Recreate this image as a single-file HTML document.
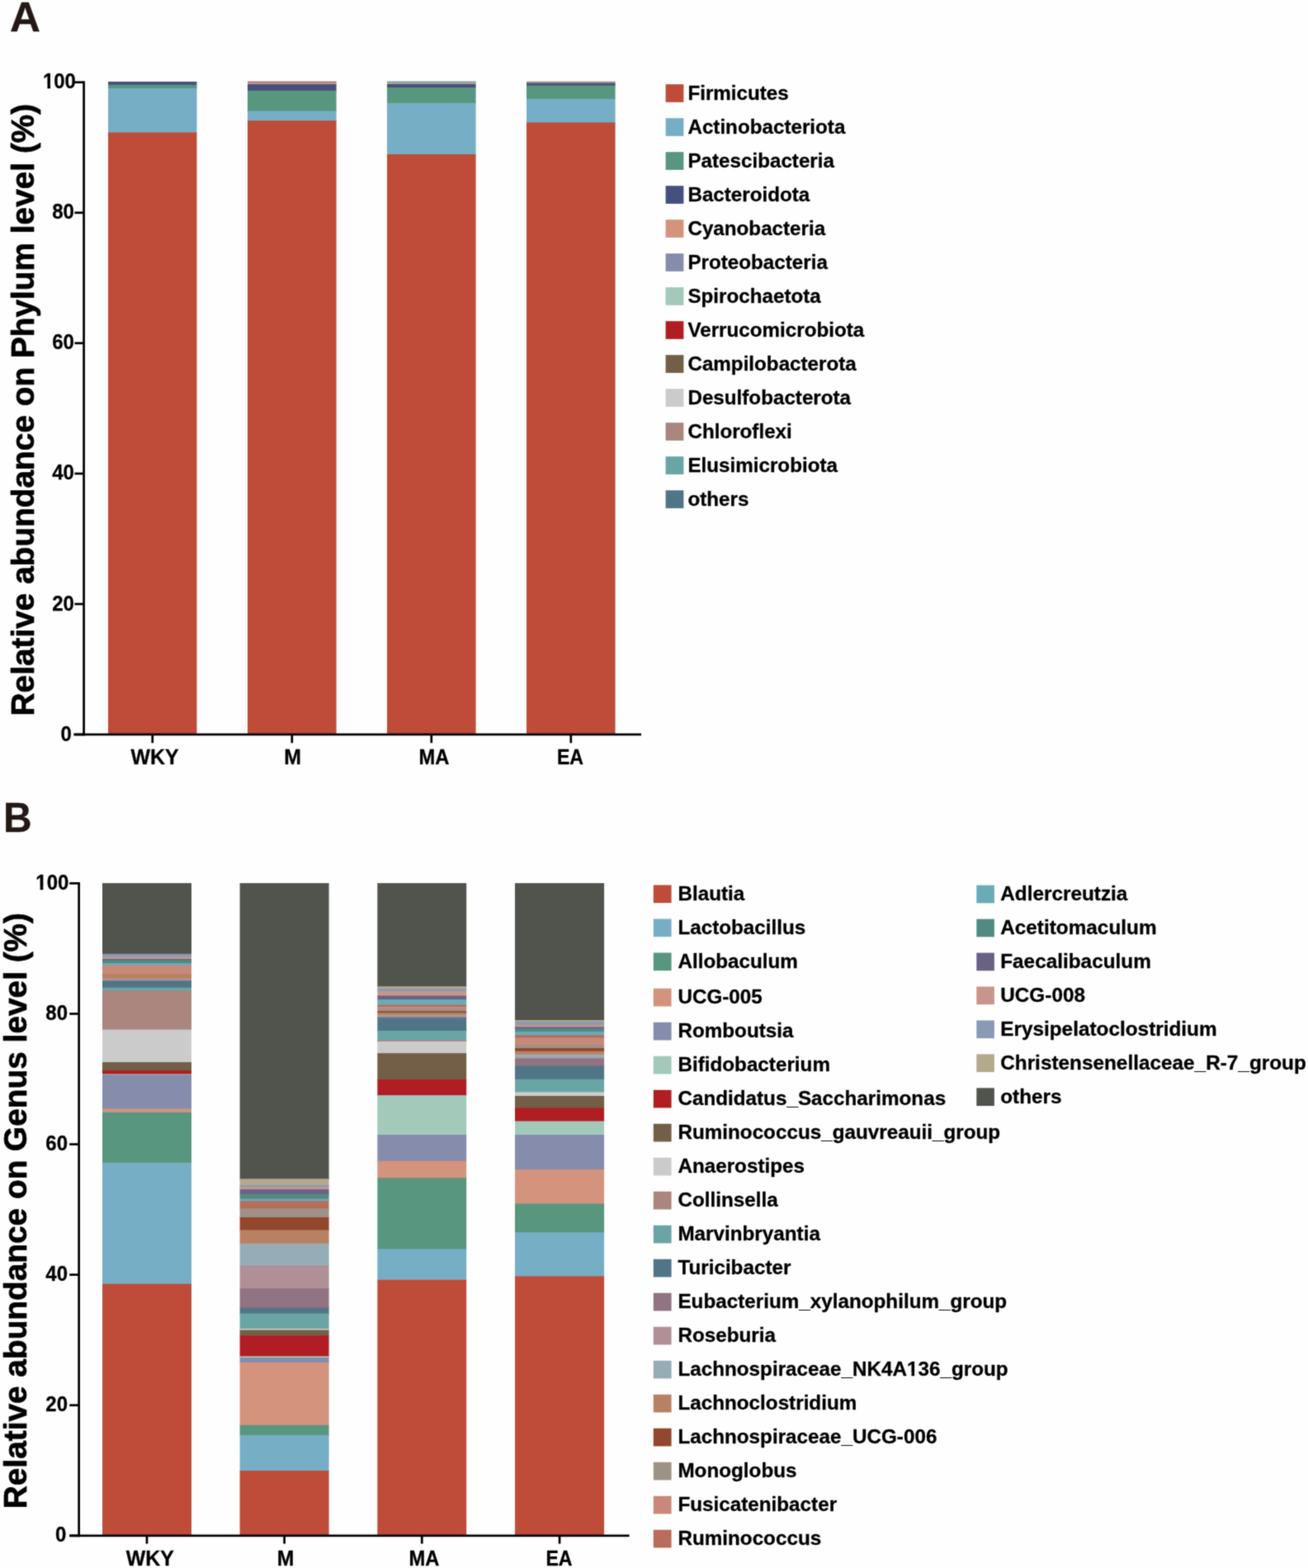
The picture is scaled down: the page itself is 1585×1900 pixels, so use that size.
<!DOCTYPE html>
<html lang="en"><head><meta charset="utf-8"><title>Relative abundance on Phylum and Genus level</title>
<style>
html,body{margin:0;padding:0;background:#fefefe;}
body{width:1585px;height:1900px;overflow:hidden;}
svg{display:block;}
svg text{font-family:"Liberation Sans", Arial, Helvetica, sans-serif;font-weight:bold;}
</style></head><body>
<svg width="1585" height="1900" viewBox="0 0 1585 1900">
<defs><filter id="soft" filterUnits="userSpaceOnUse" x="0" y="0" width="1585" height="1900" color-interpolation-filters="sRGB"><feConvolveMatrix order="3" kernelMatrix="0.0277 0.111 0.0277 0.111 0.4468 0.111 0.0277 0.111 0.0277" divisor="1" edgeMode="duplicate" preserveAlpha="true"/></filter></defs>
<g filter="url(#soft)">

<rect x="-5" y="-5" width="1595" height="1910" fill="#fefefe"/>
<text transform="translate(12.00,38.10) scale(1.0405,1)" font-size="49.2" text-anchor="start" fill="#231815" stroke="#231815" stroke-width="0.3" stroke-linejoin="round">A</text>
<rect x="131.00" y="98.90" width="107.50" height="4.80" fill="#45507F"/>
<rect x="131.00" y="102.70" width="107.50" height="5.20" fill="#58967F"/>
<rect x="131.00" y="106.90" width="107.50" height="54.50" fill="#76AEC6"/>
<rect x="131.00" y="160.40" width="107.50" height="728.70" fill="#BE4C39"/>
<rect x="300.00" y="98.50" width="107.60" height="2.70" fill="#9A817C"/>
<rect x="300.00" y="100.20" width="107.60" height="2.90" fill="#D4937D"/>
<rect x="300.00" y="102.10" width="107.60" height="8.70" fill="#45507F"/>
<rect x="300.00" y="109.80" width="107.60" height="25.80" fill="#58967F"/>
<rect x="300.00" y="134.60" width="107.60" height="12.60" fill="#76AEC6"/>
<rect x="300.00" y="146.20" width="107.60" height="742.90" fill="#BE4C39"/>
<rect x="469.00" y="98.50" width="107.60" height="2.40" fill="#78999B"/>
<rect x="469.00" y="99.90" width="107.60" height="2.20" fill="#9AB5A5"/>
<rect x="469.00" y="101.10" width="107.60" height="1.80" fill="#D4937D"/>
<rect x="469.00" y="101.90" width="107.60" height="5.10" fill="#45507F"/>
<rect x="469.00" y="106.00" width="107.60" height="19.80" fill="#58967F"/>
<rect x="469.00" y="124.80" width="107.60" height="63.10" fill="#76AEC6"/>
<rect x="469.00" y="186.90" width="107.60" height="702.20" fill="#BE4C39"/>
<rect x="638.00" y="98.60" width="107.60" height="2.30" fill="#9A9A95"/>
<rect x="638.00" y="99.90" width="107.60" height="2.10" fill="#9A7A85"/>
<rect x="638.00" y="101.00" width="107.60" height="3.50" fill="#45507F"/>
<rect x="638.00" y="103.50" width="107.60" height="17.40" fill="#58967F"/>
<rect x="638.00" y="119.90" width="107.60" height="29.50" fill="#76AEC6"/>
<rect x="638.00" y="148.40" width="107.60" height="740.70" fill="#BE4C39"/>
<rect x="100.25" y="98.35" width="2.70" height="793.00" fill="#000"/>
<rect x="89.30" y="888.65" width="687.70" height="2.70" fill="#000"/>
<rect x="90.40" y="98.35" width="11.20" height="2.70" fill="#000"/>
<text transform="translate(91.90,107.30) scale(0.9370,1)" font-size="25.6" text-anchor="end" fill="#000" stroke="#000" stroke-width="0.3" stroke-linejoin="round">100</text>
<rect x="90.40" y="256.41" width="11.20" height="2.70" fill="#000"/>
<text transform="translate(89.95,265.36) scale(0.9370,1)" font-size="25.6" text-anchor="end" fill="#000" stroke="#000" stroke-width="0.3" stroke-linejoin="round">80</text>
<rect x="90.40" y="414.47" width="11.20" height="2.70" fill="#000"/>
<text transform="translate(89.95,423.42) scale(0.9370,1)" font-size="25.6" text-anchor="end" fill="#000" stroke="#000" stroke-width="0.3" stroke-linejoin="round">60</text>
<rect x="90.40" y="572.53" width="11.20" height="2.70" fill="#000"/>
<text transform="translate(89.95,581.48) scale(0.9370,1)" font-size="25.6" text-anchor="end" fill="#000" stroke="#000" stroke-width="0.3" stroke-linejoin="round">40</text>
<rect x="90.40" y="730.59" width="11.20" height="2.70" fill="#000"/>
<text transform="translate(89.95,739.54) scale(0.9370,1)" font-size="25.6" text-anchor="end" fill="#000" stroke="#000" stroke-width="0.3" stroke-linejoin="round">20</text>
<rect x="90.40" y="888.65" width="11.20" height="2.70" fill="#000"/>
<text transform="translate(86.75,897.60) scale(0.9370,1)" font-size="25.6" text-anchor="end" fill="#000" stroke="#000" stroke-width="0.3" stroke-linejoin="round">0</text>
<rect x="183.40" y="890.00" width="2.70" height="10.30" fill="#000"/>
<rect x="352.45" y="890.00" width="2.70" height="10.30" fill="#000"/>
<rect x="521.45" y="890.00" width="2.70" height="10.30" fill="#000"/>
<rect x="690.45" y="890.00" width="2.70" height="10.30" fill="#000"/>
<text transform="translate(187.50,926.10) scale(0.9720,1)" font-size="25.6" text-anchor="middle" fill="#000" stroke="#000" stroke-width="0.3" stroke-linejoin="round">WKY</text>
<text transform="translate(354.70,926.10) scale(0.9700,1)" font-size="25.6" text-anchor="middle" fill="#000" stroke="#000" stroke-width="0.3" stroke-linejoin="round">M</text>
<text transform="translate(525.90,926.10) scale(0.9260,1)" font-size="25.6" text-anchor="middle" fill="#000" stroke="#000" stroke-width="0.3" stroke-linejoin="round">MA</text>
<text transform="translate(691.00,926.10) scale(0.9040,1)" font-size="25.6" text-anchor="middle" fill="#000" stroke="#000" stroke-width="0.3" stroke-linejoin="round">EA</text>
<text transform="translate(41.0,496.6) rotate(-90)" font-size="38.8" text-anchor="middle" fill="#000" stroke="#000" stroke-width="0.7" stroke-linejoin="round">Relative abundance on Phylum level (%)</text>
<rect x="806.60" y="102.15" width="21.80" height="21.70" fill="#BE4C39"/>
<text transform="translate(833.40,121.10) scale(0.9920,1)" font-size="24.4" text-anchor="start" fill="#000" stroke="#000" stroke-width="0.3" stroke-linejoin="round">Firmicutes</text>
<rect x="806.60" y="143.15" width="21.80" height="21.70" fill="#76AEC6"/>
<text transform="translate(833.40,162.10) scale(0.9920,1)" font-size="24.4" text-anchor="start" fill="#000" stroke="#000" stroke-width="0.3" stroke-linejoin="round">Actinobacteriota</text>
<rect x="806.60" y="184.15" width="21.80" height="21.70" fill="#58967F"/>
<text transform="translate(833.40,203.10) scale(0.9920,1)" font-size="24.4" text-anchor="start" fill="#000" stroke="#000" stroke-width="0.3" stroke-linejoin="round">Patescibacteria</text>
<rect x="806.60" y="225.15" width="21.80" height="21.70" fill="#45507F"/>
<text transform="translate(833.40,244.10) scale(0.9920,1)" font-size="24.4" text-anchor="start" fill="#000" stroke="#000" stroke-width="0.3" stroke-linejoin="round">Bacteroidota</text>
<rect x="806.60" y="266.15" width="21.80" height="21.70" fill="#D4937D"/>
<text transform="translate(833.40,285.10) scale(0.9920,1)" font-size="24.4" text-anchor="start" fill="#000" stroke="#000" stroke-width="0.3" stroke-linejoin="round">Cyanobacteria</text>
<rect x="806.60" y="307.15" width="21.80" height="21.70" fill="#868CAB"/>
<text transform="translate(833.40,326.10) scale(0.9920,1)" font-size="24.4" text-anchor="start" fill="#000" stroke="#000" stroke-width="0.3" stroke-linejoin="round">Proteobacteria</text>
<rect x="806.60" y="348.15" width="21.80" height="21.70" fill="#A2C9B9"/>
<text transform="translate(833.40,367.10) scale(0.9920,1)" font-size="24.4" text-anchor="start" fill="#000" stroke="#000" stroke-width="0.3" stroke-linejoin="round">Spirochaetota</text>
<rect x="806.60" y="389.15" width="21.80" height="21.70" fill="#B01D23"/>
<text transform="translate(833.40,408.10) scale(0.9920,1)" font-size="24.4" text-anchor="start" fill="#000" stroke="#000" stroke-width="0.3" stroke-linejoin="round">Verrucomicrobiota</text>
<rect x="806.60" y="430.15" width="21.80" height="21.70" fill="#735E47"/>
<text transform="translate(833.40,449.10) scale(0.9920,1)" font-size="24.4" text-anchor="start" fill="#000" stroke="#000" stroke-width="0.3" stroke-linejoin="round">Campilobacterota</text>
<rect x="806.60" y="471.15" width="21.80" height="21.70" fill="#CBCBCB"/>
<text transform="translate(833.40,490.10) scale(0.9920,1)" font-size="24.4" text-anchor="start" fill="#000" stroke="#000" stroke-width="0.3" stroke-linejoin="round">Desulfobacterota</text>
<rect x="806.60" y="512.15" width="21.80" height="21.70" fill="#AA867F"/>
<text transform="translate(833.40,531.10) scale(0.9920,1)" font-size="24.4" text-anchor="start" fill="#000" stroke="#000" stroke-width="0.3" stroke-linejoin="round">Chloroflexi</text>
<rect x="806.60" y="553.15" width="21.80" height="21.70" fill="#69A5A4"/>
<text transform="translate(833.40,572.10) scale(0.9920,1)" font-size="24.4" text-anchor="start" fill="#000" stroke="#000" stroke-width="0.3" stroke-linejoin="round">Elusimicrobiota</text>
<rect x="806.60" y="594.15" width="21.80" height="21.70" fill="#4F7586"/>
<text transform="translate(833.40,613.10) scale(0.9920,1)" font-size="24.4" text-anchor="start" fill="#000" stroke="#000" stroke-width="0.3" stroke-linejoin="round">others</text>
<text transform="translate(4.00,1008.20) scale(0.9720,1)" font-size="49.4" text-anchor="start" fill="#231815" stroke="#231815" stroke-width="0.3" stroke-linejoin="round">B</text>
<rect x="124.00" y="1070.10" width="108.00" height="86.70" fill="#50544D"/>
<rect x="124.00" y="1155.80" width="108.00" height="4.60" fill="#8A9AB5"/>
<rect x="124.00" y="1159.40" width="108.00" height="3.60" fill="#C8958A"/>
<rect x="124.00" y="1162.00" width="108.00" height="2.50" fill="#6A6285"/>
<rect x="124.00" y="1163.50" width="108.00" height="4.60" fill="#518A82"/>
<rect x="124.00" y="1167.10" width="108.00" height="3.50" fill="#6AABB8"/>
<rect x="124.00" y="1169.60" width="108.00" height="11.30" fill="#C8897A"/>
<rect x="124.00" y="1179.90" width="108.00" height="6.40" fill="#B88262"/>
<rect x="124.00" y="1185.30" width="108.00" height="4.10" fill="#B09096"/>
<rect x="124.00" y="1188.40" width="108.00" height="9.30" fill="#4F7586"/>
<rect x="124.00" y="1196.70" width="108.00" height="4.60" fill="#69A5A4"/>
<rect x="124.00" y="1200.30" width="108.00" height="48.30" fill="#AA867F"/>
<rect x="124.00" y="1247.60" width="108.00" height="40.50" fill="#CBCBCB"/>
<rect x="124.00" y="1287.10" width="108.00" height="11.00" fill="#735E47"/>
<rect x="124.00" y="1297.10" width="108.00" height="5.30" fill="#B01D23"/>
<rect x="124.00" y="1301.40" width="108.00" height="1.90" fill="#A2C9B9"/>
<rect x="124.00" y="1302.30" width="108.00" height="42.20" fill="#868CAB"/>
<rect x="124.00" y="1343.50" width="108.00" height="5.40" fill="#D4937D"/>
<rect x="124.00" y="1347.90" width="108.00" height="61.90" fill="#58967F"/>
<rect x="124.00" y="1408.80" width="108.00" height="147.90" fill="#76AEC6"/>
<rect x="124.00" y="1555.70" width="108.00" height="304.40" fill="#BE4C39"/>
<rect x="290.60" y="1070.10" width="108.00" height="359.30" fill="#50544D"/>
<rect x="290.60" y="1428.40" width="108.00" height="8.60" fill="#B3A98D"/>
<rect x="290.60" y="1436.00" width="108.00" height="3.30" fill="#8A9AB5"/>
<rect x="290.60" y="1438.30" width="108.00" height="3.90" fill="#C8958A"/>
<rect x="290.60" y="1441.20" width="108.00" height="6.70" fill="#6A6285"/>
<rect x="290.60" y="1446.90" width="108.00" height="6.80" fill="#518A82"/>
<rect x="290.60" y="1452.70" width="108.00" height="3.70" fill="#6AABB8"/>
<rect x="290.60" y="1455.40" width="108.00" height="10.00" fill="#B86C5B"/>
<rect x="290.60" y="1464.40" width="108.00" height="11.60" fill="#9D9286"/>
<rect x="290.60" y="1475.00" width="108.00" height="16.40" fill="#93472D"/>
<rect x="290.60" y="1490.40" width="108.00" height="17.30" fill="#B88262"/>
<rect x="290.60" y="1506.70" width="108.00" height="27.70" fill="#96ADB7"/>
<rect x="290.60" y="1533.40" width="108.00" height="28.80" fill="#B09096"/>
<rect x="290.60" y="1561.20" width="108.00" height="24.40" fill="#917381"/>
<rect x="290.60" y="1584.60" width="108.00" height="7.90" fill="#4F7586"/>
<rect x="290.60" y="1591.50" width="108.00" height="19.40" fill="#69A5A4"/>
<rect x="290.60" y="1609.90" width="108.00" height="2.70" fill="#CBCBCB"/>
<rect x="290.60" y="1611.60" width="108.00" height="7.90" fill="#735E47"/>
<rect x="290.60" y="1618.50" width="108.00" height="25.80" fill="#B01D23"/>
<rect x="290.60" y="1643.30" width="108.00" height="2.80" fill="#A2C9B9"/>
<rect x="290.60" y="1645.10" width="108.00" height="6.80" fill="#868CAB"/>
<rect x="290.60" y="1650.90" width="108.00" height="76.90" fill="#D4937D"/>
<rect x="290.60" y="1726.80" width="108.00" height="13.20" fill="#58967F"/>
<rect x="290.60" y="1739.00" width="108.00" height="44.10" fill="#76AEC6"/>
<rect x="290.60" y="1782.10" width="108.00" height="78.00" fill="#BE4C39"/>
<rect x="457.30" y="1070.10" width="107.90" height="126.10" fill="#50544D"/>
<rect x="457.30" y="1195.20" width="107.90" height="3.60" fill="#B3A98D"/>
<rect x="457.30" y="1197.80" width="107.90" height="4.20" fill="#8A9AB5"/>
<rect x="457.30" y="1201.00" width="107.90" height="6.50" fill="#C8958A"/>
<rect x="457.30" y="1206.50" width="107.90" height="5.60" fill="#6A6285"/>
<rect x="457.30" y="1211.10" width="107.90" height="7.50" fill="#6AABB8"/>
<rect x="457.30" y="1217.60" width="107.90" height="3.20" fill="#B86C5B"/>
<rect x="457.30" y="1219.80" width="107.90" height="3.40" fill="#C8897A"/>
<rect x="457.30" y="1222.20" width="107.90" height="4.10" fill="#9D9286"/>
<rect x="457.30" y="1225.30" width="107.90" height="2.80" fill="#93472D"/>
<rect x="457.30" y="1227.10" width="107.90" height="4.10" fill="#B88262"/>
<rect x="457.30" y="1230.20" width="107.90" height="2.70" fill="#96ADB7"/>
<rect x="457.30" y="1231.90" width="107.90" height="3.10" fill="#917381"/>
<rect x="457.30" y="1234.00" width="107.90" height="15.90" fill="#4F7586"/>
<rect x="457.30" y="1248.90" width="107.90" height="12.60" fill="#69A5A4"/>
<rect x="457.30" y="1260.50" width="107.90" height="2.40" fill="#AA867F"/>
<rect x="457.30" y="1261.90" width="107.90" height="15.30" fill="#CBCBCB"/>
<rect x="457.30" y="1276.20" width="107.90" height="32.90" fill="#735E47"/>
<rect x="457.30" y="1308.10" width="107.90" height="20.00" fill="#B01D23"/>
<rect x="457.30" y="1327.10" width="107.90" height="49.00" fill="#A2C9B9"/>
<rect x="457.30" y="1375.10" width="107.90" height="32.70" fill="#868CAB"/>
<rect x="457.30" y="1406.80" width="107.90" height="21.40" fill="#D4937D"/>
<rect x="457.30" y="1427.20" width="107.90" height="87.20" fill="#58967F"/>
<rect x="457.30" y="1513.40" width="107.90" height="38.40" fill="#76AEC6"/>
<rect x="457.30" y="1550.80" width="107.90" height="309.30" fill="#BE4C39"/>
<rect x="624.00" y="1070.10" width="108.10" height="167.00" fill="#50544D"/>
<rect x="624.00" y="1236.10" width="108.10" height="2.90" fill="#B3A98D"/>
<rect x="624.00" y="1238.00" width="108.10" height="5.00" fill="#8A9AB5"/>
<rect x="624.00" y="1242.00" width="108.10" height="3.40" fill="#C8958A"/>
<rect x="624.00" y="1244.40" width="108.10" height="3.10" fill="#6A6285"/>
<rect x="624.00" y="1246.50" width="108.10" height="4.60" fill="#518A82"/>
<rect x="624.00" y="1250.10" width="108.10" height="5.20" fill="#6AABB8"/>
<rect x="624.00" y="1254.30" width="108.10" height="4.10" fill="#B86C5B"/>
<rect x="624.00" y="1257.40" width="108.10" height="9.30" fill="#C8897A"/>
<rect x="624.00" y="1265.70" width="108.10" height="5.30" fill="#9D9286"/>
<rect x="624.00" y="1270.00" width="108.10" height="4.70" fill="#93472D"/>
<rect x="624.00" y="1273.70" width="108.10" height="4.90" fill="#B88262"/>
<rect x="624.00" y="1277.60" width="108.10" height="4.80" fill="#96ADB7"/>
<rect x="624.00" y="1281.40" width="108.10" height="2.30" fill="#B09096"/>
<rect x="624.00" y="1282.70" width="108.10" height="9.80" fill="#917381"/>
<rect x="624.00" y="1291.50" width="108.10" height="17.20" fill="#4F7586"/>
<rect x="624.00" y="1307.70" width="108.10" height="16.60" fill="#69A5A4"/>
<rect x="624.00" y="1323.30" width="108.10" height="5.70" fill="#CBCBCB"/>
<rect x="624.00" y="1328.00" width="108.10" height="15.50" fill="#735E47"/>
<rect x="624.00" y="1342.50" width="108.10" height="17.00" fill="#B01D23"/>
<rect x="624.00" y="1358.50" width="108.10" height="17.60" fill="#A2C9B9"/>
<rect x="624.00" y="1375.10" width="108.10" height="43.00" fill="#868CAB"/>
<rect x="624.00" y="1417.10" width="108.10" height="42.40" fill="#D4937D"/>
<rect x="624.00" y="1458.50" width="108.10" height="35.80" fill="#58967F"/>
<rect x="624.00" y="1493.30" width="108.10" height="54.10" fill="#76AEC6"/>
<rect x="624.00" y="1546.40" width="108.10" height="313.70" fill="#BE4C39"/>
<rect x="94.30" y="1069.00" width="2.70" height="793.20" fill="#000"/>
<rect x="84.20" y="1859.50" width="678.40" height="2.70" fill="#000"/>
<rect x="84.20" y="1069.00" width="11.45" height="2.70" fill="#000"/>
<text transform="translate(83.30,1077.95) scale(0.9370,1)" font-size="25.6" text-anchor="end" fill="#000" stroke="#000" stroke-width="0.3" stroke-linejoin="round">100</text>
<rect x="84.20" y="1227.10" width="11.45" height="2.70" fill="#000"/>
<text transform="translate(82.05,1236.05) scale(0.9370,1)" font-size="25.6" text-anchor="end" fill="#000" stroke="#000" stroke-width="0.3" stroke-linejoin="round">80</text>
<rect x="84.20" y="1385.20" width="11.45" height="2.70" fill="#000"/>
<text transform="translate(82.05,1394.15) scale(0.9370,1)" font-size="25.6" text-anchor="end" fill="#000" stroke="#000" stroke-width="0.3" stroke-linejoin="round">60</text>
<rect x="84.20" y="1543.30" width="11.45" height="2.70" fill="#000"/>
<text transform="translate(82.05,1552.25) scale(0.9370,1)" font-size="25.6" text-anchor="end" fill="#000" stroke="#000" stroke-width="0.3" stroke-linejoin="round">40</text>
<rect x="84.20" y="1701.40" width="11.45" height="2.70" fill="#000"/>
<text transform="translate(82.05,1710.35) scale(0.9370,1)" font-size="25.6" text-anchor="end" fill="#000" stroke="#000" stroke-width="0.3" stroke-linejoin="round">20</text>
<rect x="84.20" y="1859.50" width="11.45" height="2.70" fill="#000"/>
<text transform="translate(80.45,1868.45) scale(0.9370,1)" font-size="25.6" text-anchor="end" fill="#000" stroke="#000" stroke-width="0.3" stroke-linejoin="round">0</text>
<rect x="176.65" y="1860.85" width="2.70" height="9.75" fill="#000"/>
<rect x="343.25" y="1860.85" width="2.70" height="9.75" fill="#000"/>
<rect x="509.90" y="1860.85" width="2.70" height="9.75" fill="#000"/>
<rect x="676.70" y="1860.85" width="2.70" height="9.75" fill="#000"/>
<text transform="translate(181.75,1897.20) scale(0.9720,1)" font-size="25.6" text-anchor="middle" fill="#000" stroke="#000" stroke-width="0.3" stroke-linejoin="round">WKY</text>
<text transform="translate(346.10,1897.20) scale(0.9700,1)" font-size="25.6" text-anchor="middle" fill="#000" stroke="#000" stroke-width="0.3" stroke-linejoin="round">M</text>
<text transform="translate(514.00,1897.20) scale(0.9260,1)" font-size="25.6" text-anchor="middle" fill="#000" stroke="#000" stroke-width="0.3" stroke-linejoin="round">MA</text>
<text transform="translate(677.50,1897.20) scale(0.9040,1)" font-size="25.6" text-anchor="middle" fill="#000" stroke="#000" stroke-width="0.3" stroke-linejoin="round">EA</text>
<text transform="translate(32.1,1467.1) rotate(-90)" font-size="38.8" text-anchor="middle" fill="#000" stroke="#000" stroke-width="0.7" stroke-linejoin="round">Relative abundance on Genus level (%)</text>
<rect x="791.80" y="1072.45" width="21.80" height="21.70" fill="#BE4C39"/>
<text transform="translate(821.40,1090.90) scale(1.0235,1)" font-size="23.7" text-anchor="start" fill="#000" stroke="#000" stroke-width="0.3" stroke-linejoin="round">Blautia</text>
<rect x="791.80" y="1113.45" width="21.80" height="21.70" fill="#76AEC6"/>
<text transform="translate(821.40,1131.90) scale(1.0235,1)" font-size="23.7" text-anchor="start" fill="#000" stroke="#000" stroke-width="0.3" stroke-linejoin="round">Lactobacillus</text>
<rect x="791.80" y="1154.45" width="21.80" height="21.70" fill="#58967F"/>
<text transform="translate(821.40,1172.90) scale(1.0235,1)" font-size="23.7" text-anchor="start" fill="#000" stroke="#000" stroke-width="0.3" stroke-linejoin="round">Allobaculum</text>
<rect x="791.80" y="1197.75" width="21.80" height="21.70" fill="#D4937D"/>
<text transform="translate(821.40,1216.20) scale(1.0235,1)" font-size="23.7" text-anchor="start" fill="#000" stroke="#000" stroke-width="0.3" stroke-linejoin="round">UCG-005</text>
<rect x="791.80" y="1238.75" width="21.80" height="21.70" fill="#868CAB"/>
<text transform="translate(821.40,1257.20) scale(1.0235,1)" font-size="23.7" text-anchor="start" fill="#000" stroke="#000" stroke-width="0.3" stroke-linejoin="round">Romboutsia</text>
<rect x="791.80" y="1279.75" width="21.80" height="21.70" fill="#A2C9B9"/>
<text transform="translate(821.40,1298.20) scale(1.0235,1)" font-size="23.7" text-anchor="start" fill="#000" stroke="#000" stroke-width="0.3" stroke-linejoin="round">Bifidobacterium</text>
<rect x="791.80" y="1320.75" width="21.80" height="21.70" fill="#B01D23"/>
<text transform="translate(821.40,1339.20) scale(1.0235,1)" font-size="23.7" text-anchor="start" fill="#000" stroke="#000" stroke-width="0.3" stroke-linejoin="round">Candidatus_Saccharimonas</text>
<rect x="791.80" y="1361.75" width="21.80" height="21.70" fill="#735E47"/>
<text transform="translate(821.40,1380.20) scale(1.0235,1)" font-size="23.7" text-anchor="start" fill="#000" stroke="#000" stroke-width="0.3" stroke-linejoin="round">Ruminococcus_gauvreauii_group</text>
<rect x="791.80" y="1402.75" width="21.80" height="21.70" fill="#CBCBCB"/>
<text transform="translate(821.40,1421.20) scale(1.0235,1)" font-size="23.7" text-anchor="start" fill="#000" stroke="#000" stroke-width="0.3" stroke-linejoin="round">Anaerostipes</text>
<rect x="791.80" y="1443.75" width="21.80" height="21.70" fill="#AA867F"/>
<text transform="translate(821.40,1462.20) scale(1.0235,1)" font-size="23.7" text-anchor="start" fill="#000" stroke="#000" stroke-width="0.3" stroke-linejoin="round">Collinsella</text>
<rect x="791.80" y="1484.75" width="21.80" height="21.70" fill="#69A5A4"/>
<text transform="translate(821.40,1503.20) scale(1.0235,1)" font-size="23.7" text-anchor="start" fill="#000" stroke="#000" stroke-width="0.3" stroke-linejoin="round">Marvinbryantia</text>
<rect x="791.80" y="1525.75" width="21.80" height="21.70" fill="#4F7586"/>
<text transform="translate(821.40,1544.20) scale(1.0235,1)" font-size="23.7" text-anchor="start" fill="#000" stroke="#000" stroke-width="0.3" stroke-linejoin="round">Turicibacter</text>
<rect x="791.80" y="1566.75" width="21.80" height="21.70" fill="#917381"/>
<text transform="translate(821.40,1585.20) scale(1.0235,1)" font-size="23.7" text-anchor="start" fill="#000" stroke="#000" stroke-width="0.3" stroke-linejoin="round">Eubacterium_xylanophilum_group</text>
<rect x="791.80" y="1607.75" width="21.80" height="21.70" fill="#B09096"/>
<text transform="translate(821.40,1626.20) scale(1.0235,1)" font-size="23.7" text-anchor="start" fill="#000" stroke="#000" stroke-width="0.3" stroke-linejoin="round">Roseburia</text>
<rect x="791.80" y="1648.75" width="21.80" height="21.70" fill="#96ADB7"/>
<text transform="translate(821.40,1667.20) scale(1.0235,1)" font-size="23.7" text-anchor="start" fill="#000" stroke="#000" stroke-width="0.3" stroke-linejoin="round">Lachnospiraceae_NK4A136_group</text>
<rect x="791.80" y="1689.75" width="21.80" height="21.70" fill="#B88262"/>
<text transform="translate(821.40,1708.20) scale(1.0235,1)" font-size="23.7" text-anchor="start" fill="#000" stroke="#000" stroke-width="0.3" stroke-linejoin="round">Lachnoclostridium</text>
<rect x="791.80" y="1730.75" width="21.80" height="21.70" fill="#93472D"/>
<text transform="translate(821.40,1749.20) scale(1.0235,1)" font-size="23.7" text-anchor="start" fill="#000" stroke="#000" stroke-width="0.3" stroke-linejoin="round">Lachnospiraceae_UCG-006</text>
<rect x="791.80" y="1771.75" width="21.80" height="21.70" fill="#9D9286"/>
<text transform="translate(821.40,1790.20) scale(1.0235,1)" font-size="23.7" text-anchor="start" fill="#000" stroke="#000" stroke-width="0.3" stroke-linejoin="round">Monoglobus</text>
<rect x="791.80" y="1812.75" width="21.80" height="21.70" fill="#C8897A"/>
<text transform="translate(821.40,1831.20) scale(1.0235,1)" font-size="23.7" text-anchor="start" fill="#000" stroke="#000" stroke-width="0.3" stroke-linejoin="round">Fusicatenibacter</text>
<rect x="791.80" y="1853.75" width="21.80" height="21.70" fill="#B86C5B"/>
<text transform="translate(821.40,1872.20) scale(1.0235,1)" font-size="23.7" text-anchor="start" fill="#000" stroke="#000" stroke-width="0.3" stroke-linejoin="round">Ruminococcus</text>
<rect x="1183.30" y="1072.65" width="21.60" height="21.70" fill="#6AABB8"/>
<text transform="translate(1212.20,1091.10) scale(1.0276,1)" font-size="23.7" text-anchor="start" fill="#000" stroke="#000" stroke-width="0.3" stroke-linejoin="round">Adlercreutzia</text>
<rect x="1183.30" y="1113.60" width="21.60" height="21.70" fill="#518A82"/>
<text transform="translate(1212.20,1132.05) scale(1.0276,1)" font-size="23.7" text-anchor="start" fill="#000" stroke="#000" stroke-width="0.3" stroke-linejoin="round">Acetitomaculum</text>
<rect x="1183.30" y="1154.55" width="21.60" height="21.70" fill="#6A6285"/>
<text transform="translate(1212.20,1173.00) scale(1.0276,1)" font-size="23.7" text-anchor="start" fill="#000" stroke="#000" stroke-width="0.3" stroke-linejoin="round">Faecalibaculum</text>
<rect x="1183.30" y="1195.50" width="21.60" height="21.70" fill="#C8958A"/>
<text transform="translate(1212.20,1213.95) scale(1.0276,1)" font-size="23.7" text-anchor="start" fill="#000" stroke="#000" stroke-width="0.3" stroke-linejoin="round">UCG-008</text>
<rect x="1183.30" y="1236.45" width="21.60" height="21.70" fill="#8A9AB5"/>
<text transform="translate(1212.20,1254.90) scale(1.0276,1)" font-size="23.7" text-anchor="start" fill="#000" stroke="#000" stroke-width="0.3" stroke-linejoin="round">Erysipelatoclostridium</text>
<rect x="1183.30" y="1277.40" width="21.60" height="21.70" fill="#B3A98D"/>
<text transform="translate(1212.20,1295.85) scale(1.0276,1)" font-size="23.7" text-anchor="start" fill="#000" stroke="#000" stroke-width="0.3" stroke-linejoin="round">Christensenellaceae_R-7_group</text>
<rect x="1183.30" y="1318.35" width="21.60" height="21.70" fill="#50544D"/>
<text transform="translate(1212.20,1336.80) scale(1.0276,1)" font-size="23.7" text-anchor="start" fill="#000" stroke="#000" stroke-width="0.3" stroke-linejoin="round">others</text>
<rect x="52.30" y="103.40" width="5.13" height="4.90" fill="#fefefe"/>
<rect x="61.03" y="103.40" width="4.67" height="4.90" fill="#fefefe"/>
<rect x="43.30" y="1074.40" width="5.30" height="4.90" fill="#fefefe"/>
<rect x="52.37" y="1074.40" width="4.33" height="4.90" fill="#fefefe"/>
<rect x="1099.30" y="1663.40" width="5.16" height="4.90" fill="#fefefe"/>
<rect x="1108.15" y="1663.40" width="4.55" height="4.90" fill="#fefefe"/>
</g>
</svg>
</body></html>
